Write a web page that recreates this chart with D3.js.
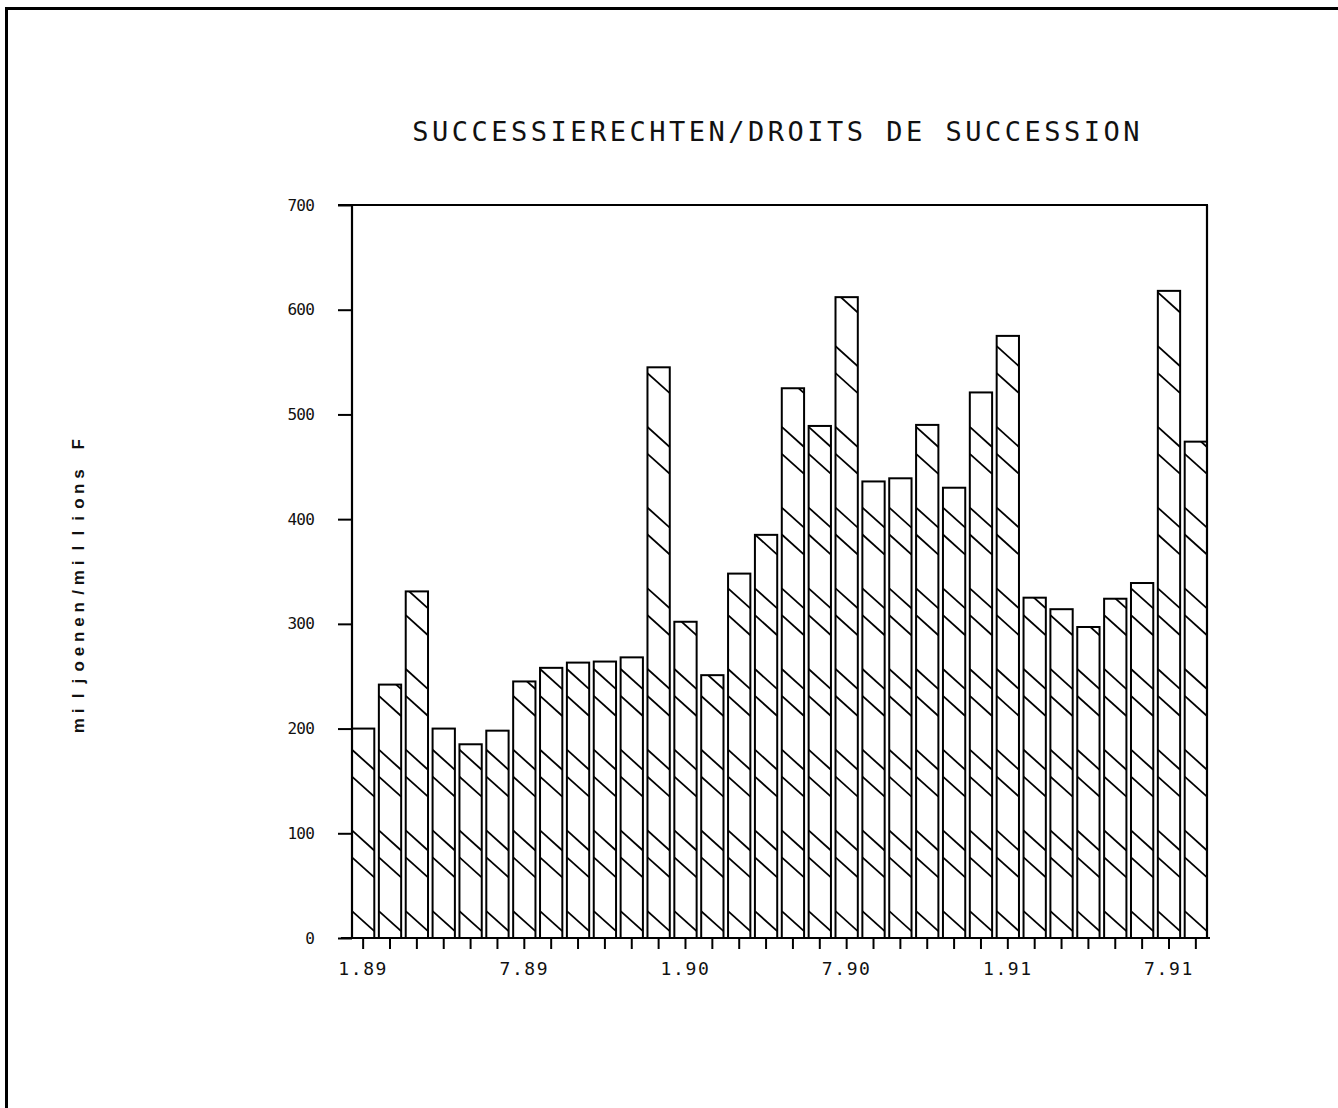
<!DOCTYPE html>
<html>
<head>
<meta charset="utf-8">
<script src="https://cdn.jsdelivr.net/npm/d3@7"></script>
<style>
  html, body { margin: 0; padding: 0; background: #fff; }
  svg { display: block; }
</style>
</head>
<body>
<svg id="chart" width="1338" height="1108"></svg>
<script>
// ---- data ----
const categories = ["1.89","2.89","3.89","4.89","5.89","6.89","7.89","8.89","9.89","10.89","11.89","12.89",
                    "1.90","2.90","3.90","4.90","5.90","6.90","7.90","8.90","9.90","10.90","11.90","12.90",
                    "1.91","2.91","3.91","4.91","5.91","6.91","7.91","8.91"];
const values = [200,242,331,200,185,198,245,258,263,264,268,545,
                302,251,348,385,525,489,612,436,439,490,430,521,
                575,325,314,297,324,339,618,474];
const xTickLabels = ["1.89","7.89","1.90","7.90","1.91","7.91"];
const yTickValues = [0,100,200,300,400,500,600,700];
const titleText = "SUCCESSIERECHTEN/DROITS DE SUCCESSION";
const yTitleText = "miljoenen/millions F";

// ---- layout ----
const svg = d3.select("#chart");
const plotLeft = 352, plotRight = 1207, plotTop = 205, plotBottom = 938;

const x = d3.scaleBand().domain(categories).range([plotLeft, plotRight]).paddingInner(0.17).paddingOuter(0);
const y = d3.scaleLinear().domain([0, 700]).range([plotBottom, plotTop]);

// page frame (scanned page border)
svg.append("line").attr("x1", 5).attr("x2", 1338).attr("y1", 8.5).attr("y2", 8.5)
  .attr("stroke", "#000").attr("stroke-width", 3);
svg.append("line").attr("x1", 6.5).attr("x2", 6.5).attr("y1", 7).attr("y2", 1108)
  .attr("stroke", "#000").attr("stroke-width", 3);

// monospaced-cell text helper
function cellText(g, str, cx, yPos, cell, attrs) {
  const n = str.length;
  const xs = d3.range(n).map(i => cx - (n * cell) / 2 + cell * (i + 0.5));
  const t = g.append("text")
    .attr("x", xs.join(" "))
    .attr("y", yPos)
    .attr("text-anchor", "middle")
    .text(str);
  Object.entries(attrs).forEach(([k, v]) => t.attr(k, v));
  return t;
}

// title
cellText(svg, titleText, 776, 141, 19.75, {
  "font-family": "DejaVu Sans Mono", "font-size": 27, "fill": "#111"
});

// y title (rotated)
const yt = svg.append("g").attr("transform", "translate(84,585) rotate(-90)");
cellText(yt, yTitleText, 0, 0, 14.8, {
  "font-family": "Liberation Sans", "font-size": 17, "font-weight": "bold", "fill": "#111"
});

// bars
const defs = svg.append("defs");
const bw = x.bandwidth();
const hatchStep = 26.9, hatchSlope = 0.9;

categories.forEach((c, i) => {
  const x0 = x(c), yt0 = y(values[i]);
  defs.append("clipPath").attr("id", "clip" + i)
    .append("rect").attr("x", x0).attr("y", yt0).attr("width", bw).attr("height", y(0) - yt0);
});

const barG = svg.append("g");
barG.selectAll("rect.bar").data(values).join("rect")
  .attr("class", "bar")
  .attr("x", (d, i) => x(categories[i]))
  .attr("y", d => y(d))
  .attr("width", bw)
  .attr("height", d => y(0) - y(d))
  .attr("fill", "#fff");

categories.forEach((c, i) => {
  const x0 = x(c), yTop = y(values[i]);
  const g = barG.append("g").attr("clip-path", `url(#clip${i})`);
  for (let k = 1; ; k++) {
    const y0 = y(0) - k * hatchStep;
    if (y0 + hatchSlope * bw < yTop) break;
    if (k % 3 === 2) continue;
    g.append("line")
      .attr("x1", x0).attr("y1", y0)
      .attr("x2", x0 + bw).attr("y2", y0 + hatchSlope * bw)
      .attr("stroke", "#000").attr("stroke-width", 1.8);
  }
});

barG.selectAll("rect.outline").data(values).join("rect")
  .attr("class", "outline")
  .attr("x", (d, i) => x(categories[i]))
  .attr("y", d => y(d))
  .attr("width", bw)
  .attr("height", d => y(0) - y(d))
  .attr("fill", "none")
  .attr("stroke", "#000")
  .attr("stroke-width", 2);

// plot frame
const frame = svg.append("g").attr("stroke", "#000").attr("stroke-width", 2.2).attr("fill", "none");
frame.append("line").attr("x1", plotLeft - 14).attr("x2", plotRight + 1).attr("y1", plotTop).attr("y2", plotTop);
frame.append("line").attr("x1", plotLeft).attr("x2", plotLeft).attr("y1", plotTop).attr("y2", plotBottom);
frame.append("line").attr("x1", plotRight).attr("x2", plotRight).attr("y1", plotTop).attr("y2", plotBottom);
frame.append("line").attr("x1", plotLeft - 11).attr("x2", plotRight + 3).attr("y1", plotBottom).attr("y2", plotBottom);

// y axis
const yAxis = svg.append("g").attr("transform", `translate(${plotLeft},0)`)
  .call(d3.axisLeft(y).tickValues(yTickValues).tickSize(14).tickPadding(24).tickFormat(d3.format("d")));
yAxis.select(".domain").remove();
yAxis.selectAll(".tick line").attr("stroke", "#000").attr("stroke-width", 2);
yAxis.selectAll(".tick text")
  .attr("font-family", "DejaVu Sans Mono").attr("font-size", 16).attr("fill", "#111")
  .attr("letter-spacing", "-0.8");

// x axis
const xAxis = svg.append("g").attr("transform", `translate(0,${plotBottom})`)
  .call(d3.axisBottom(x).tickSize(11).tickFormat(d => xTickLabels.includes(d) ? d : ""));
xAxis.select(".domain").remove();
xAxis.selectAll(".tick line").attr("stroke", "#000").attr("stroke-width", 2);
xAxis.selectAll(".tick text")
  .attr("y", 24)
  .attr("font-family", "DejaVu Sans Mono").attr("font-size", 18).attr("fill", "#111")
  .attr("letter-spacing", "1.6");
</script>
</body>
</html>
